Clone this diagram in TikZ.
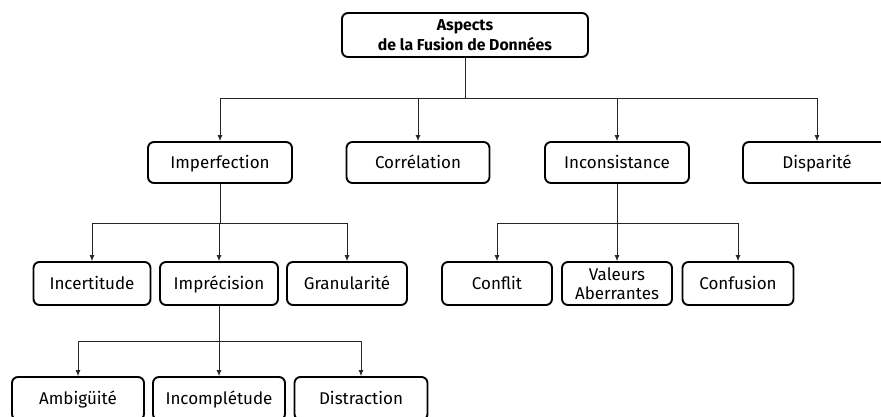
\documentclass[tikz,border=0pt]{standalone}
\usepackage{fontspec}
\setmainfont{Fira Sans}
\usetikzlibrary{arrows.meta}
\begin{document}
\begin{tikzpicture}[x=1pt,y=-1pt,
  box/.style={draw=black, line width=1.9pt, rounded corners=6pt, fill=white,
    align=center, inner sep=0pt, minimum height=41pt, font=\fontsize{17}{19}\selectfont},
  one/.style={text height=11.6pt, text depth=0pt},
  arr/.style={line width=0.8pt, draw=black!85, -{Latex[length=6pt,width=5pt]}},
  link/.style={line width=0.8pt, draw=black!85}]
\useasboundingbox (0,0) rectangle (881,416);

% root
\node[box, minimum width=246pt, minimum height=44pt, font=\bfseries\fontsize{15.8}{19.5}\selectfont]
  (root) at (465,35) {Aspects\\de la Fusion de Données};

% first level
\node[box, one, minimum width=144pt] (imperf) at (220,162.5) {Imperfection};
\node[box, one, minimum width=143pt] (correl) at (418,162.5) {Corrélation};
\node[box, one, minimum width=144pt] (incons) at (617,162.5) {Inconsistance};
\node[box, one, minimum width=148pt] (dispar) at (817,162.5) {Disparité};

% second level
\node[box, one, minimum width=117pt, minimum height=43pt] (incert) at (92,283.5) {Incertitude};
\node[box, one, minimum width=118pt, minimum height=43pt] (imprec) at (219,283.5) {Imprécision};
\node[box, one, minimum width=120pt, minimum height=43pt] (granul) at (347,283.5) {Granularité};
\node[box, one, minimum width=110pt, minimum height=43pt] (confli) at (497,283.5) {Conflit};
\node[box, minimum width=110pt, minimum height=43pt, font=\fontsize{17}{19}\selectfont]
  (valeur) at (617,283.5) {Valeurs\\Aberrantes};
\node[box, one, minimum width=111pt, minimum height=43pt] (confus) at (738,283.5) {Confusion};

% third level
\node[box, one, minimum width=132pt, minimum height=43pt] (ambig) at (78,398.5) {Ambigüité};
\node[box, one, minimum width=132pt, minimum height=43pt] (incomp) at (219,398.5) {Incomplétude};
\node[box, one, minimum width=133pt, minimum height=43pt] (distra) at (361,398.5) {Distraction};

% bus points
\coordinate (b0) at (465,98);
\coordinate (b1) at (220,223);
\coordinate (b2) at (617,223);
\coordinate (b3) at (219,341);

\draw[link] (root.south) -- (b0);
\foreach \n in {imperf,correl,incons,dispar}
  \draw[arr] (b0) -| (\n.north);

\draw[link] (imperf.south) -- (b1);
\foreach \n in {incert,imprec,granul}
  \draw[arr] (b1) -| (\n.north);

\draw[link] (incons.south) -- (b2);
\foreach \n in {confli,valeur,confus}
  \draw[arr] (b2) -| (\n.north);

\draw[link] (imprec.south) -- (b3);
\foreach \n in {ambig,incomp,distra}
  \draw[arr] (b3) -| (\n.north);
\end{tikzpicture}
\end{document}
